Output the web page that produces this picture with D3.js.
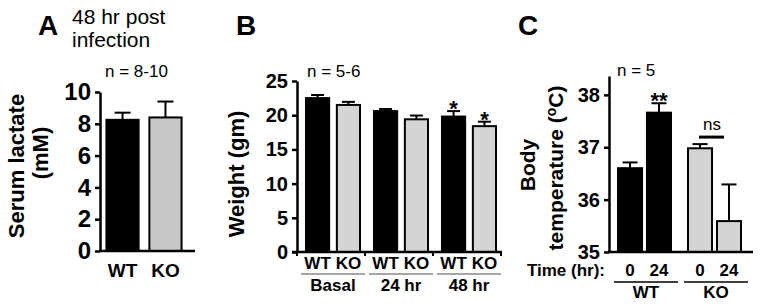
<!DOCTYPE html>
<html>
<head>
<meta charset="utf-8">
<script src="https://cdn.jsdelivr.net/npm/d3@7"></script>
<style>
  body { margin: 0; background: #fff; }
  svg text { font-family: "Liberation Sans", Arial, sans-serif; fill: #000; }
</style>
</head>
<body>
<svg id="chart" width="762" height="307"></svg>
<script>
// ---- data ----
var lactateGroups = ["WT", "KO"];
var lactateMean = [8.25, 8.4];
var lactateErr = [0.45, 1.0];

var weightTimes = ["Basal", "24 hr", "48 hr"];
var genotypes = ["WT", "KO"];
var weightWT = [22.5, 20.6, 19.8];
var weightWTErr = [0.45, 0.3, 0.8];
var weightKO = [21.5, 19.4, 18.4];
var weightKOErr = [0.45, 0.55, 0.65];
var weightStarWT = ["", "", "*"];
var weightStarKO = ["", "", "*"];

var tempTimes = ["0", "24"];
var tempWT = [36.6, 37.66];
var tempWTErr = [0.11, 0.18];
var tempKO = [36.98, 35.59];
var tempKOErr = [0.08, 0.7];

var lactateTicks = [0, 2, 4, 6, 8, 10];
var weightTicks = [0, 5, 10, 15, 20, 25];
var tempTicks = [35, 36, 37, 38];

var black = "#000", grey = "#d4d4d4";

var svg = d3.select("#chart");

// helper: one bar with an upward error bar
function drawBar(g, x, w, y, y0, mean, err, fill, capW) {
  g.append("line")
    .attr("x1", x + w / 2).attr("x2", x + w / 2)
    .attr("y1", y(mean)).attr("y2", y(mean + err))
    .attr("stroke", black).attr("stroke-width", 2);
  g.append("line")
    .attr("x1", x + w / 2 - capW / 2).attr("x2", x + w / 2 + capW / 2)
    .attr("y1", y(mean + err)).attr("y2", y(mean + err))
    .attr("stroke", black).attr("stroke-width", 2);
  g.append("rect")
    .attr("x", x).attr("y", y(mean))
    .attr("width", w).attr("height", y0 - y(mean))
    .attr("fill", fill).attr("stroke", black).attr("stroke-width", 2);
}

function yAxis(g, scale, ticks, x, size) {
  var ax = g.append("g")
    .attr("transform", "translate(" + x + ",0)")
    .call(d3.axisLeft(scale).tickValues(ticks).tickFormat(d3.format("d"))
      .tickSize(5).tickSizeOuter(0).tickPadding(4));
  ax.select(".domain").attr("stroke-width", 2.5);
  ax.selectAll(".tick line").attr("stroke-width", 2.5);
  ax.selectAll("text")
    .style("font-family", "'Liberation Sans', Arial, sans-serif")
    .style("font-size", size + "px").style("font-weight", "bold");
  return ax;
}

function rotLabel(g, txt, x, y, size) {
  return g.append("text")
    .attr("transform", "translate(" + x + "," + y + ") rotate(-90)")
    .attr("text-anchor", "middle")
    .style("font-size", size + "px").style("font-weight", "bold")
    .text(txt);
}

function star(g, cx, yTop, txt) {
  g.append("text").attr("x", cx).attr("y", yTop + 5)
    .attr("text-anchor", "middle")
    .style("font-size", "22px").style("font-weight", "bold")
    .text(txt);
}

// ================= Panel A =================
var gA = svg.append("g");
var yA = d3.scaleLinear().domain([0, 10]).range([251, 92]);
var xA = d3.scaleBand().domain(lactateGroups).range([100, 188]).paddingInner(0.25).paddingOuter(0.15);

gA.append("text").attr("x", 38).attr("y", 35)
  .style("font-size", "28px").style("font-weight", "bold").text("A");
gA.append("text").attr("x", 72).attr("y", 24).style("font-size", "21px").text("48 hr post");
gA.append("text").attr("x", 72).attr("y", 47).style("font-size", "21px").text("infection");
gA.append("text").attr("x", 105).attr("y", 77).style("font-size", "17px").text("n = 8-10");

lactateGroups.forEach(function(k, i) {
  drawBar(gA, xA(k), xA.bandwidth(), yA, yA(0), lactateMean[i], lactateErr[i], i ? "#c8c8c8" : black, 16);
});
yAxis(gA, yA, lactateTicks, 100, 24);
gA.append("line").attr("x1", 99).attr("x2", 195).attr("y1", 251).attr("y2", 251)
  .attr("stroke", black).attr("stroke-width", 2.5);
lactateGroups.forEach(function(k) {
  gA.append("text").attr("x", xA(k) + xA.bandwidth() / 2).attr("y", 277)
    .attr("text-anchor", "middle").style("font-size", "19px").style("font-weight", "bold").text(k);
});
rotLabel(gA, "Serum lactate", 24, 166, 22);
rotLabel(gA, "(mM)", 48, 153, 22);

// ================= Panel B =================
var gB = svg.append("g");
var yB = d3.scaleLinear().domain([0, 25]).range([252, 81]);
var xB = d3.scaleBand().domain(weightTimes).range([297, 501]);
var xBin = d3.scaleBand().domain(genotypes).range([9, 63]).paddingInner(0.25);

gB.append("text").attr("x", 236).attr("y", 35)
  .style("font-size", "28px").style("font-weight", "bold").text("B");
gB.append("text").attr("x", 307).attr("y", 77).style("font-size", "17px").text("n = 5-6");

weightTimes.forEach(function(t, i) {
  var x0 = xB(t);
  var bw = xBin.bandwidth();
  drawBar(gB, x0 + xBin("WT"), bw, yB, yB(0), weightWT[i], weightWTErr[i], black, 13);
  drawBar(gB, x0 + xBin("KO"), bw, yB, yB(0), weightKO[i], weightKOErr[i], grey, 13);
  if (weightStarWT[i]) star(gB, x0 + xBin("WT") + bw / 2, yB(weightWT[i] + weightWTErr[i]), weightStarWT[i]);
  if (weightStarKO[i]) star(gB, x0 + xBin("KO") + bw / 2, yB(weightKO[i] + weightKOErr[i]), weightStarKO[i]);
  genotypes.forEach(function(gt) {
    gB.append("text").attr("x", x0 + xBin(gt) + bw / 2).attr("y", 269)
      .attr("text-anchor", "middle").style("font-size", "17px").style("font-weight", "bold").text(gt);
  });
  gB.append("line").attr("x1", x0 + 4).attr("x2", x0 + xB.bandwidth())
    .attr("y1", 274).attr("y2", 274).attr("stroke", "#888").attr("stroke-width", 1.5);
  gB.append("text").attr("x", x0 + xB.bandwidth() / 2 + 2).attr("y", 291)
    .attr("text-anchor", "middle").style("font-size", "17px").style("font-weight", "bold").text(t);
});
yAxis(gB, yB, weightTicks, 297, 20);
gB.append("line").attr("x1", 292).attr("x2", 502).attr("y1", 252).attr("y2", 252)
  .attr("stroke", black).attr("stroke-width", 2.5);
weightTimes.concat(["end"]).forEach(function(t, i) {
  var xt = i < weightTimes.length ? xB(t) : xB.range()[1];
  gB.append("line").attr("x1", xt).attr("x2", xt).attr("y1", 252).attr("y2", 256)
    .attr("stroke", black).attr("stroke-width", 2);
});
rotLabel(gB, "Weight (gm)", 244, 174, 22);

// ================= Panel C =================
var gC = svg.append("g");
var yC = d3.scaleLinear().domain([35, 38.36]).range([252, 76]);
var xC = d3.scaleBand().domain(genotypes).range([612, 752]);
var xCin = d3.scaleBand().domain(tempTimes).range([6, 59]).paddingInner(0.17);

gC.append("text").attr("x", 518).attr("y", 35)
  .style("font-size", "28px").style("font-weight", "bold").text("C");
gC.append("text").attr("x", 617).attr("y", 76).style("font-size", "17px").text("n = 5");

var tempMeans = { WT: tempWT, KO: tempKO };
var tempErrs = { WT: tempWTErr, KO: tempKOErr };
genotypes.forEach(function(gt, gi) {
  var x0 = xC(gt);
  var bw = xCin.bandwidth();
  tempTimes.forEach(function(tt, ti) {
    drawBar(gC, x0 + xCin(tt), bw, yC, yC(35), tempMeans[gt][ti], tempErrs[gt][ti], gi ? grey : black, 15);
    gC.append("text").attr("x", x0 + xCin(tt) + bw / 2).attr("y", 276)
      .attr("text-anchor", "middle").style("font-size", "17px").style("font-weight", "bold").text(tt);
  });
  gC.append("line").attr("x1", x0 + 2).attr("x2", x0 + xC.bandwidth() - 4)
    .attr("y1", 282).attr("y2", 282).attr("stroke", black).attr("stroke-width", 1.5);
  gC.append("text").attr("x", x0 + xC.bandwidth() / 2 - 1).attr("y", 298)
    .attr("text-anchor", "middle").style("font-size", "17px").style("font-weight", "bold").text(gt);
});
// significance marks
star(gC, xC("WT") + xCin("24") + xCin.bandwidth() / 2, yC(tempWT[1] + tempWTErr[1]), "**");
var nsY = yC(tempKO[0] + tempKOErr[0]) - 7;
gC.append("line").attr("x1", 699).attr("x2", 724).attr("y1", nsY).attr("y2", nsY)
  .attr("stroke", black).attr("stroke-width", 3);
gC.append("text").attr("x", 712).attr("y", nsY - 7).attr("text-anchor", "middle")
  .style("font-size", "17px").text("ns");

yAxis(gC, yC, tempTicks, 609, 20);
gC.append("line").attr("x1", 608).attr("x2", 753).attr("y1", 252).attr("y2", 252)
  .attr("stroke", black).attr("stroke-width", 2.5);
gC.append("text").attr("x", 605).attr("y", 276).attr("text-anchor", "end")
  .style("font-size", "17px").style("font-weight", "bold").text("Time (hr):");
rotLabel(gC, "Body", 535, 165, 21);
var tl = gC.append("text")
  .attr("transform", "translate(563,168) rotate(-90)")
  .attr("text-anchor", "middle")
  .style("font-size", "21px").style("font-weight", "bold");
tl.append("tspan").text("temperature (");
tl.append("tspan").attr("dy", -7).style("font-size", "14px").text("o");
tl.append("tspan").attr("dy", 7).text("C)");
</script>
</body>
</html>
